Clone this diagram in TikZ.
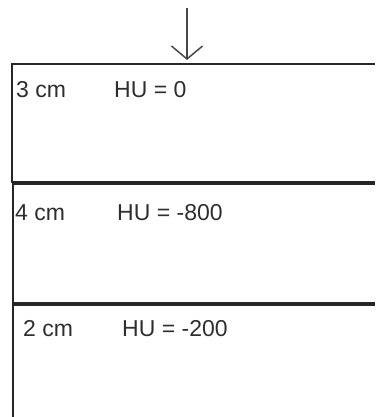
\documentclass[tikz,border=0pt]{standalone}
\usepackage{fontspec}
\setmainfont{Liberation Sans}
\usetikzlibrary{arrows.meta}
\definecolor{inkline}{HTML}{262626}
\definecolor{inktext}{HTML}{2E2E2E}
\begin{document}
\begin{tikzpicture}[x=1pt,y=-1pt,
  layerline/.style={draw=inkline,line width=2pt},
  label/.style={inner sep=0pt,anchor=base west,text=inktext,font=\fontsize{23}{25}\selectfont},
  flow/.style={draw=inkline!85,line width=1.5pt,-{Straight Barb[length=13pt,width=31pt,line width=1.5pt]}}]
\useasboundingbox (0,0) rectangle (375,417);
% incoming beam
\coordinate (src) at (187,8);
\coordinate (tip) at (187,60);
\draw[flow] (src) -- (tip);
% three tissue layers, open on the right
\draw[layerline] (375,64) -- (12,64) -- (12,182) -- (375,182);
\draw[layerline] (375,184) -- (13,184) -- (13,303) -- (375,303);
\draw[layerline] (375,305) -- (13,305) -- (13,417);
% layer labels
\node[label] (t1) at (16,98) {3 cm};
\node[label] (h1) at (114,98) {HU = 0};
\node[label] (t2) at (15,220) {4 cm};
\node[label] (h2) at (117,220) {HU = -800};
\node[label] (t3) at (23,336) {2 cm};
\node[label] (h3) at (122,336) {HU = -200};
\end{tikzpicture}
\end{document}
